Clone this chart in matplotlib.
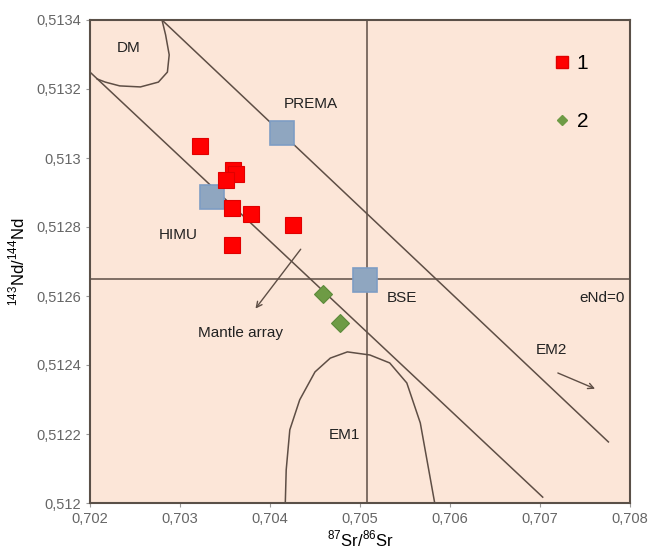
import matplotlib
matplotlib.use("Agg")
import matplotlib.pyplot as plt
from matplotlib.ticker import FuncFormatter, MultipleLocator

# samples, group 1 (red squares) and group 2 (green diamonds)
sr_group1 = [0.70322, 0.70359, 0.70362, 0.70351, 0.70358, 0.70379, 0.70426, 0.70358]
nd_group1 = [0.513035, 0.512965, 0.512954, 0.512936, 0.512855, 0.512838, 0.512806, 0.512748]
sr_group2 = [0.70459, 0.70478]
nd_group2 = [0.512606, 0.512522]

# mantle reservoirs (blue squares)
ref_names = ["PREMA", "HIMU", "BSE"]
ref_sr = [0.70413, 0.70336, 0.70506]
ref_nd = [0.513072, 0.512887, 0.512646]

# mantle array bounds
array_low_sr = [0.702, 0.70703]
array_low_nd = [0.513249, 0.512017]
array_up_sr = [0.7028, 0.70776]
array_up_nd = [0.5134, 0.512177]

bse_sr = 0.70508
chur_nd = 0.51265

# DM and EM1 fields
dm_sr = [0.70280, 0.70284, 0.70288, 0.70286, 0.70276, 0.70256, 0.70233, 0.70217, 0.70208]
dm_nd = [0.513400, 0.513357, 0.513299, 0.513249, 0.513220, 0.513206, 0.513209, 0.513220, 0.513229]
em1_sr = [0.70417, 0.70418, 0.70422, 0.70433, 0.70450, 0.70467, 0.70486, 0.70511, 0.70533,
          0.70552, 0.70567, 0.70583]
em1_nd = [0.51200, 0.512096, 0.512212, 0.512299, 0.512380, 0.512420, 0.512438, 0.512429,
          0.512406, 0.512348, 0.512232, 0.51200]

# text labels: (text, sr, nd)
field_labels = [
    ("DM", 0.70243, 0.513319),
    ("PREMA", 0.70445, 0.513157),
    ("HIMU", 0.70298, 0.512777),
    ("BSE", 0.70547, 0.512594),
    ("eNd=0", 0.70769, 0.512594),
    ("EM2", 0.70713, 0.512443),
    ("EM1", 0.70483, 0.512197),
    ("Mantle array", 0.70367, 0.512493),
]
mantle_arrow = ((0.70436, 0.512742), (0.70382, 0.512557))
em2_arrow = ((0.70717, 0.512380), (0.70764, 0.512328))

line_col = "#5e4e45"
plt.rcParams["font.family"] = ["Liberation Sans", "DejaVu Sans"]
plt.rcParams["mathtext.fontset"] = "custom"
plt.rcParams["mathtext.rm"] = "Liberation Sans"

fig = plt.figure(figsize=(6.49, 5.51), dpi=100)
ax = fig.add_axes([90 / 649, 48 / 551, 540 / 649, 483 / 551])
ax.set_facecolor("#fce6d8")

ax.plot(array_low_sr, array_low_nd, color=line_col, lw=1.1)
ax.plot(array_up_sr, array_up_nd, color=line_col, lw=1.1)
ax.axvline(bse_sr, color=line_col, lw=1.1)
ax.axhline(chur_nd, color=line_col, lw=1.1)
ax.plot(dm_sr, dm_nd, color=line_col, lw=1.1)
ax.plot(em1_sr, em1_nd, color=line_col, lw=1.1)

for start, end in (mantle_arrow, em2_arrow):
    ax.annotate("", xy=end, xytext=start,
                arrowprops=dict(arrowstyle="->", color=line_col, lw=1.0))

ax.plot(ref_sr, ref_nd, ls="none", marker="s", ms=17, mfc="#8fa6c0",
        mec="#7e9dc4", mew=1.2, zorder=3)
ax.plot(sr_group1, nd_group1, ls="none", marker="s", ms=11, mfc="#ff0000",
        mec="#e00000", mew=0.8, zorder=4)
ax.plot(sr_group2, nd_group2, ls="none", marker="D", ms=9, mfc="#6e9b45",
        mec="#5c8a3a", mew=0.8, zorder=4)

for text, sr, nd in field_labels:
    ax.text(sr, nd, text, ha="center", va="center", fontsize=11, color="#222222")

h1, = ax.plot([], [], ls="none", marker="s", ms=9, mfc="#ff0000", mec="#e00000")
h2, = ax.plot([], [], ls="none", marker="D", ms=5, mfc="#6e9b45", mec="#6e9b45")
ax.legend([h1, h2], ["1", "2"], loc="upper left", bbox_to_anchor=(0.855, 0.93),
          frameon=False, fontsize=15, handlelength=1.0, handletextpad=0.2,
          labelspacing=1.9, borderpad=0, borderaxespad=0)

ax.set_xlim(0.702, 0.708)
ax.set_ylim(0.512, 0.5134)
ax.xaxis.set_major_locator(MultipleLocator(0.001))
ax.yaxis.set_major_locator(MultipleLocator(0.0002))


def comma_fmt(v, pos):
    return f"{v:.4f}".rstrip("0").replace(".", ",")


ax.xaxis.set_major_formatter(FuncFormatter(comma_fmt))
ax.yaxis.set_major_formatter(FuncFormatter(comma_fmt))
ax.tick_params(labelsize=10.5, labelcolor="#666666", color="#999999", length=3, width=0.8)
for sp in ax.spines.values():
    sp.set_color("#5a5048")
    sp.set_linewidth(1.5)

ax.set_xlabel("$^{87}$Sr/$^{86}$Sr", fontsize=12, labelpad=2)
ax.set_ylabel("$^{143}$Nd/$^{144}$Nd", fontsize=12, labelpad=6)

fig.savefig("out.png", dpi=100)
